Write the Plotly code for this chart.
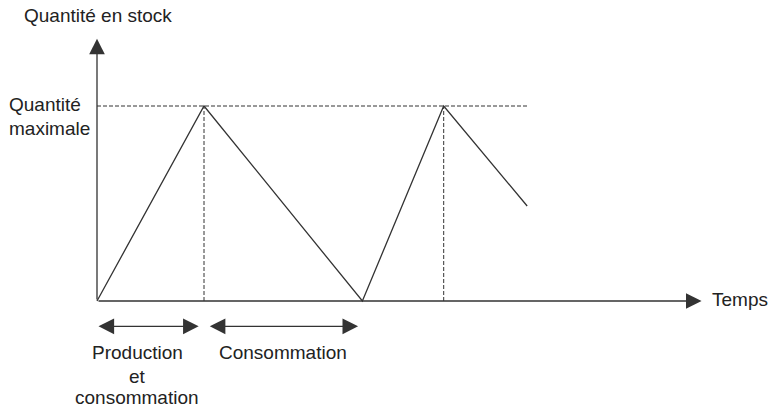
import plotly.graph_objects as go

# stock level over time (time unit = one production phase)
temps = [0, 1, 2.48, 3.24, 4.02]
stock = [0, 100, 0, 100, 48.7]
stock_max = 100
t_pics = [1, 3.24]
t_fin_axe = 5.65
stock_fin_axe = 134.5

ink = '#333333'
txt = '#222222'
police = 'Liberation Sans, Arial, sans-serif'

fig = go.Figure()

# dashed guide at max quantity
fig.add_trace(go.Scatter(x=[0, temps[-1]], y=[stock_max, stock_max], mode='lines',
                         line=dict(color=ink, width=1, dash='4px,2px'), hoverinfo='skip'))
for tp in t_pics:
    fig.add_trace(go.Scatter(x=[tp, tp], y=[0, stock_max], mode='lines',
                             line=dict(color=ink, width=1, dash='4px,2px'), hoverinfo='skip'))

# saw-tooth curve
fig.add_trace(go.Scatter(x=temps, y=stock, mode='lines',
                         line=dict(color=ink, width=1.3), hoverinfo='skip'))

annots = []
fl = dict(xref='x', yref='y', axref='x', ayref='y', showarrow=True, arrowhead=2,
          arrowsize=2.4, arrowwidth=1.3, arrowcolor=ink, text='')
# axes with arrows
annots.append(dict(x=0, y=stock_fin_axe, ax=0, ay=0, **fl))
annots.append(dict(x=t_fin_axe, y=0, ax=0, ay=0, **fl))

# phase double arrows
y_fl = -13
phases = [(0.0, 0.95), (1.04, 2.44)]
for a, b in phases:
    annots.append(dict(x=b, y=y_fl, ax=a, ay=y_fl, startarrowhead=2, arrowside='end+start',
                       startarrowsize=2.4, **fl))

# labels (one annotation per line to control spacing)
lab = dict(showarrow=False, font=dict(family=police, size=19, color=txt),
           xref='x', yref='y', yanchor='middle')
labels = [
    ('Quantité en stock', -0.70, 146.2, 'left'),
    ('Quantité', -0.845, 101.0, 'left'),
    ('maximale', -0.845, 88.7, 'left'),
    ('Temps', 5.725, 1.0, 'left'),
    ('Production', 0.374, -26.2, 'center'),
    ('et', 0.374, -38.5, 'center'),
    ('consommation', 0.374, -49.7, 'center'),
    ('Consommation', 1.734, -26.2, 'center'),
]
for t, x, y, xa in labels:
    annots.append(dict(x=x, y=y, text=t, xanchor=xa, **lab))

fig.update_layout(
    width=769, height=409,
    margin=dict(l=0, r=0, t=0, b=0),
    paper_bgcolor='white', plot_bgcolor='white',
    showlegend=False,
    annotations=annots,
    xaxis=dict(range=[-0.9065, 6.280], visible=False, fixedrange=True),
    yaxis=dict(range=[-55.38, 154.36], visible=False, fixedrange=True),
)

fig.write_html('out.html', config={'displayModeBar': False},
               post_script="document.body.style.margin='0';document.body.style.overflow='hidden';")
